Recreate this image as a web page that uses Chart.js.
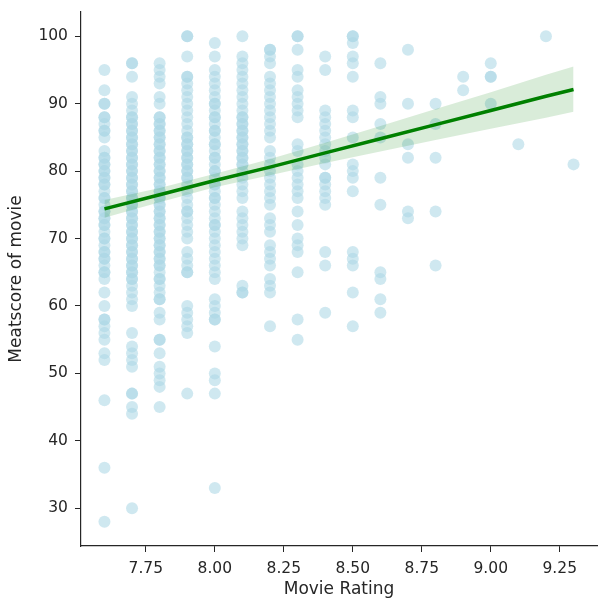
<!DOCTYPE html>
<html>
<head>
<meta charset="utf-8">
<script src="https://cdn.jsdelivr.net/npm/chart.js@4.4.1/dist/chart.umd.min.js"></script>
<style>
  body { margin: 0; background: #fff; }
</style>
</head>
<body>
<canvas id="chart" width="605" height="606"></canvas>
<script>
// Meatscore values read per rating column
var s76 = [95, 92, 90, 90, 88, 88, 87, 86, 86, 85, 83, 82, 82, 81, 81, 80, 80, 79, 79, 78, 78, 77, 76, 76, 75, 74, 74, 73, 73, 72, 72, 71, 70, 70, 69, 68, 68, 67, 67, 66, 65, 65, 64, 62, 60, 58, 58, 57, 56, 55, 53, 52, 46, 36, 28];
var s77 = [96, 96, 94, 91, 90, 89, 88, 88, 87, 87, 86, 86, 85, 85, 84, 84, 83, 83, 82, 82, 81, 81, 80, 80, 79, 79, 78, 78, 77, 77, 76, 76, 75, 75, 74, 74, 73, 73, 72, 72, 71, 71, 70, 70, 69, 69, 68, 68, 67, 67, 66, 66, 65, 65, 64, 64, 63, 62, 61, 60, 56, 54, 53, 52, 51, 47, 47, 45, 44, 30];
var s78 = [96, 95, 94, 93, 91, 90, 88, 88, 87, 87, 86, 86, 85, 85, 84, 84, 83, 83, 82, 82, 81, 81, 80, 80, 79, 79, 78, 78, 77, 77, 76, 76, 75, 75, 74, 74, 73, 73, 72, 72, 71, 71, 70, 70, 69, 69, 68, 68, 67, 67, 66, 66, 65, 64, 64, 63, 62, 61, 61, 59, 58, 55, 55, 53, 51, 50, 49, 48, 45];
var s79 = [100, 100, 97, 94, 94, 93, 92, 91, 90, 89, 88, 87, 86, 85, 85, 84, 84, 83, 83, 82, 82, 81, 81, 80, 80, 79, 79, 78, 77, 76, 75, 74, 74, 73, 72, 71, 70, 68, 67, 66, 65, 65, 60, 59, 58, 57, 56, 47];
var s80 = [99, 97, 95, 94, 93, 92, 91, 90, 90, 89, 88, 88, 87, 86, 86, 85, 84, 84, 83, 82, 82, 81, 80, 80, 79, 78, 78, 77, 76, 76, 75, 74, 73, 72, 72, 71, 70, 69, 68, 67, 66, 65, 64, 61, 60, 59, 58, 58, 54, 50, 49, 47, 33];
var s81 = [100, 97, 96, 95, 94, 93, 92, 91, 90, 89, 88, 88, 87, 87, 86, 86, 85, 85, 84, 84, 83, 83, 82, 82, 81, 81, 80, 79, 78, 77, 76, 74, 73, 72, 71, 70, 69, 63, 62, 62];
var s82 = [98, 98, 97, 96, 94, 93, 92, 91, 90, 89, 88, 87, 86, 85, 83, 82, 81, 80, 79, 78, 77, 76, 75, 73, 72, 71, 69, 68, 67, 66, 64, 63, 62, 57];
var s83 = [100, 100, 98, 95, 94, 92, 91, 90, 89, 88, 84, 83, 81, 80, 79, 78, 77, 76, 74, 72, 70, 69, 68, 65, 58, 55];
var s84 = [97, 95, 89, 88, 87, 86, 85, 84, 83, 82, 81, 79, 79, 78, 77, 76, 75, 68, 66, 59];
var s85 = [100, 100, 99, 97, 96, 94, 89, 88, 85, 81, 80, 79, 77, 68, 67, 66, 62, 57];
var s86 = [96, 91, 90, 87, 85, 79, 75, 65, 64, 61, 59];
var s87 = [98, 90, 84, 82, 74, 73];
var s88 = [90, 87, 82, 74, 66];
var s89 = [94, 92];
var s90 = [96, 94, 94, 90];
var s91 = [84];
var s92 = [100];
var s93 = [81];

var ratings = [7.6, 7.7, 7.8, 7.9, 8.0, 8.1, 8.2, 8.3, 8.4, 8.5, 8.6, 8.7, 8.8, 8.9, 9.0, 9.1, 9.2, 9.3];
var scores = [s76, s77, s78, s79, s80, s81, s82, s83, s84, s85, s86, s87, s88, s89, s90, s91, s92, s93];

// regression line and confidence band
var fitX = [7.6, 7.8, 8.0, 8.2, 8.4, 8.6, 8.8, 9.0, 9.2, 9.3];
var fitY = [74.4, 76.5, 78.6, 80.6, 82.7, 84.8, 86.9, 89.0, 91.1, 92.1];
var bandHi = [75.7, 77.5, 79.6, 81.8, 84.2, 86.7, 89.2, 91.7, 94.3, 95.5];
var bandLo = [73.1, 75.4, 77.6, 79.4, 81.2, 82.9, 84.6, 86.3, 87.9, 88.8];

var xTicks = [7.75, 8.00, 8.25, 8.50, 8.75, 9.00, 9.25];
var yTicks = [30, 40, 50, 60, 70, 80, 90, 100];

var points = [];
ratings.forEach(function (r, i) {
    scores[i].forEach(function (s) {
        points.push({ x: r, y: s });
    });
});

function xy(xs, ys) {
    return xs.map(function (x, i) { return { x: x, y: ys[i] }; });
}

// drop the label half-height padding chart.js adds at the axis ends
function noEndPadding(axis) {
    axis.paddingTop = 0;
    axis.paddingBottom = 0;
    axis.paddingLeft = 0;
    axis.paddingRight = 0;
}

var tickFont = { family: "DejaVu Sans", size: 15.5 };
var titleFont = { family: "DejaVu Sans", size: 17 };

var ctx = document.getElementById("chart").getContext('2d');
var chart = new Chart(ctx, {
    type: 'scatter',
    data: {
        datasets: [
            {
                label: "fit",
                type: 'line',
                data: xy(fitX, fitY),
                borderColor: "#008000",
                borderWidth: 3.5,
                pointRadius: 0,
                fill: false,
                order: 0
            },
            {
                label: "ci high",
                type: 'line',
                data: xy(fitX, bandHi),
                borderWidth: 0,
                pointRadius: 0,
                backgroundColor: "rgba(0, 128, 0, 0.15)",
                fill: '+1',
                order: 1
            },
            {
                label: "ci low",
                type: 'line',
                data: xy(fitX, bandLo),
                borderWidth: 0,
                pointRadius: 0,
                fill: false,
                order: 1
            },
            {
                label: "movies",
                data: points,
                backgroundColor: "rgba(173, 216, 230, 0.58)",
                borderWidth: 0,
                pointRadius: 6,
                order: 2
            }
        ]
    },
    options: {
        responsive: false,
        animation: false,
        layout: { padding: { left: 6, right: 8, top: 12, bottom: 6 } },
        plugins: {
            legend: { display: false },
            tooltip: { enabled: false }
        },
        scales: {
            x: {
                type: 'linear',
                min: 7.515,
                max: 9.385,
                afterBuildTicks: function (axis) {
                    axis.ticks = xTicks.map(function (v) { return { value: v }; });
                },
                afterFit: noEndPadding,
                ticks: {
                    autoSkip: false,
                    maxRotation: 0,
                    color: "#262626",
                    font: tickFont,
                    padding: 8,
                    callback: function (v) { return Number(v).toFixed(2); }
                },
                grid: { drawOnChartArea: false, drawTicks: true, tickLength: 6, color: "#262626" },
                border: { display: true, color: "#262626", width: 1.2 },
                title: {
                    display: true,
                    text: "Movie Rating",
                    color: "#262626",
                    font: titleFont,
                    padding: { top: -7, bottom: 0 }
                }
            },
            y: {
                min: 24.4,
                max: 103.6,
                afterBuildTicks: function (axis) {
                    axis.ticks = yTicks.map(function (v) { return { value: v }; });
                },
                afterFit: noEndPadding,
                ticks: {
                    autoSkip: false,
                    color: "#262626",
                    font: tickFont,
                    padding: 7
                },
                grid: { drawOnChartArea: false, drawTicks: true, tickLength: 6, color: "#262626" },
                border: { display: true, color: "#262626", width: 1.2 },
                title: {
                    display: true,
                    text: "Meatscore of movie",
                    color: "#262626",
                    font: titleFont,
                    padding: { top: 0, bottom: 5 }
                }
            }
        }
    }
});
</script>
</body>
</html>
